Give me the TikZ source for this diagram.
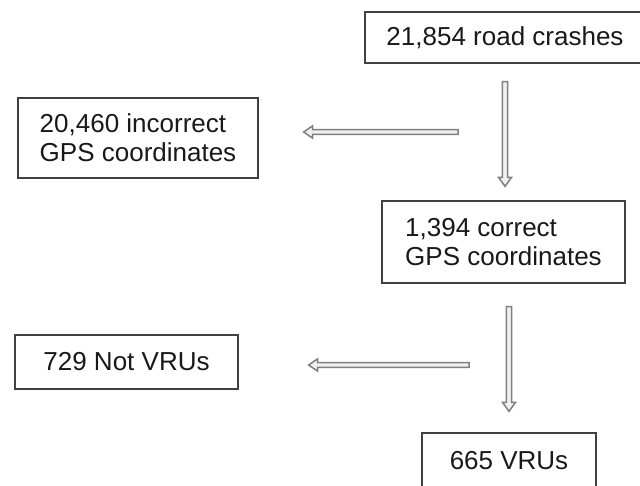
\documentclass[tikz,border=0pt]{standalone}
\usepackage{fontspec}
\setmainfont{Liberation Sans}
\usetikzlibrary{calc}
\newcommand\blkdown[2]{%
  \draw[blk] ($(#1)+(-2.6,0)$) -- ($(#2)+(-2.6,-9)$) -- ($(#2)+(-6.5,-9)$) -- (#2)
    -- ($(#2)+(6.5,-9)$) -- ($(#2)+(2.6,-9)$) -- ($(#1)+(2.6,0)$) -- cycle;}
\newcommand\blkleft[2]{%
  \draw[blk] ($(#1)+(0,-2.4)$) -- ($(#2)+(9,-2.4)$) -- ($(#2)+(9,-6.2)$) -- (#2)
    -- ($(#2)+(9,6.2)$) -- ($(#2)+(9,2.4)$) -- ($(#1)+(0,2.4)$) -- cycle;}
\begin{document}
\begin{tikzpicture}[x=1pt,y=-1pt,
  box/.style={draw=black!75, line width=1.3pt, inner sep=0pt, align=left,
    font=\fontsize{26}{29}\selectfont, text=black!90},
  blk/.style={draw=black!50, line width=1.5pt, fill=white!94!black, line join=miter}]
\useasboundingbox (0,0) rectangle (640,485);
\clip (0,0) rectangle (640,485);
\fill[white] (0,0) rectangle (640,485);
\node[box, minimum width=280pt, minimum height=51pt] (b1) at (505,37.5) {21,854 road crashes};
\node[box, minimum width=240pt, minimum height=80pt] (b2) at (138,138) {20,460 incorrect\\GPS coordinates};
\node[box, minimum width=243pt, minimum height=82pt] (b3) at (503.5,242) {1,394 correct\\GPS coordinates};
\node[box, minimum width=223pt, minimum height=54pt] (b4) at (126.5,362) {729 Not VRUs};
\node[box, minimum width=174pt, minimum height=56pt] (b5) at (509,461) {665 VRUs};
% connector end points
\coordinate (v1s) at ($(b1.south)+(0,18)$);
\coordinate (v1e) at ($(b1.south |- b3.north)+(0,-14)$);
\coordinate (v2s) at ($(b5.north |- b3.south)+(0,23)$);
\coordinate (v2e) at ($(b5.north)+(0,-21)$);
\coordinate (h1s) at (458,132);
\coordinate (h1e) at ($(h1s -| b2.east)+(45,0)$);
\coordinate (h2s) at (469,365);
\coordinate (h2e) at ($(h2s -| b4.east)+(70,0)$);
\blkdown{v1s}{v1e}
\blkleft{h1s}{h1e}
\blkdown{v2s}{v2e}
\blkleft{h2s}{h2e}
\end{tikzpicture}
\end{document}
